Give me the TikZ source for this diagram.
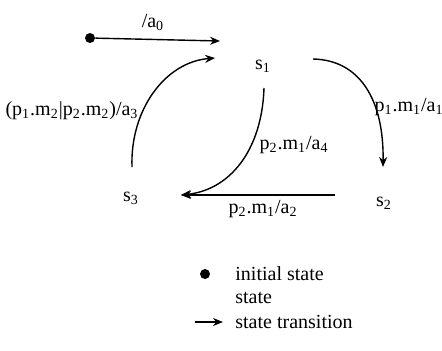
\documentclass[tikz,border=0pt]{standalone}
\usepackage{fontspec}
\setmainfont{Liberation Serif}
\usetikzlibrary{arrows.meta}

\newcommand\lo[1]{\textsubscript{#1}}

\begin{document}
\begin{tikzpicture}[x=0.5pt, y=-0.5pt,
  state/.style={inner sep=1pt},
  lbl/.style={inner sep=1pt},
  arr/.style={-{Stealth[length=5pt, width=4pt]}, line width=0.7pt},
  dot/.style={circle, fill, inner sep=0pt, minimum size=5pt},
  key/.style={anchor=west, inner sep=0pt},
]
  \useasboundingbox (0,0) rectangle (442,350);
  % states
  \node[state] (s1) at (263,66) {s\lo{1}};
  \node[state] (s2) at (384,203) {s\lo{2}};
  \node[state] (s3) at (131,198) {s\lo{3}};
  \node[dot] (init) at (90,38) {};
  \coordinate (a0end) at (220,41);
  % transitions
  \draw[arr] (init) -- (a0end);
  \draw[arr] ([shift={(50,-7)}]s1.center)
    .. controls (360,60) and (384,100) .. ([shift={(-1,-36)}]s2.center);
  \draw[arr] ([shift={(1,22)}]s1.center)
    .. controls (262,150) and (230,190) .. ([shift={(50,-3)}]s3.center);
  \draw[arr] ([shift={(-49,-8)}]s2.center) -- ([shift={(50,-3)}]s3.center);
  \draw[arr] ([shift={(1,-31)}]s3.center)
    .. controls (130,110) and (165,62) .. ([shift={(-48,-8)}]s1.center);
  % labels
  \node[lbl] (l0) at (153,22) {/a\lo{0}};
  \node[lbl] (l1) at (409,107) {p\lo{1}.m\lo{1}/a\lo{1}};
  \node[lbl] (l4) at (294,145) {p\lo{2}.m\lo{1}/a\lo{4}};
  \node[lbl] (l2) at (263,209) {p\lo{2}.m\lo{1}/a\lo{2}};
  \node[lbl] (l3) at (72,111) {(p\lo{1}.m\lo{2}|p\lo{2}.m\lo{2})/a\lo{3}};
  % legend
  \node[dot] (kdot) at (205,274) {};
  \node[key] (kinit) at (235,274) {initial state};
  \node[key] (kstate) at (235,298) {state};
  \node[key] (ktrans) at (235,322) {state transition};
  \coordinate (karrA) at (195,322);
  \coordinate (karrB) at (223,322);
  \draw[arr] (karrA) -- (karrB);
\end{tikzpicture}
\end{document}
